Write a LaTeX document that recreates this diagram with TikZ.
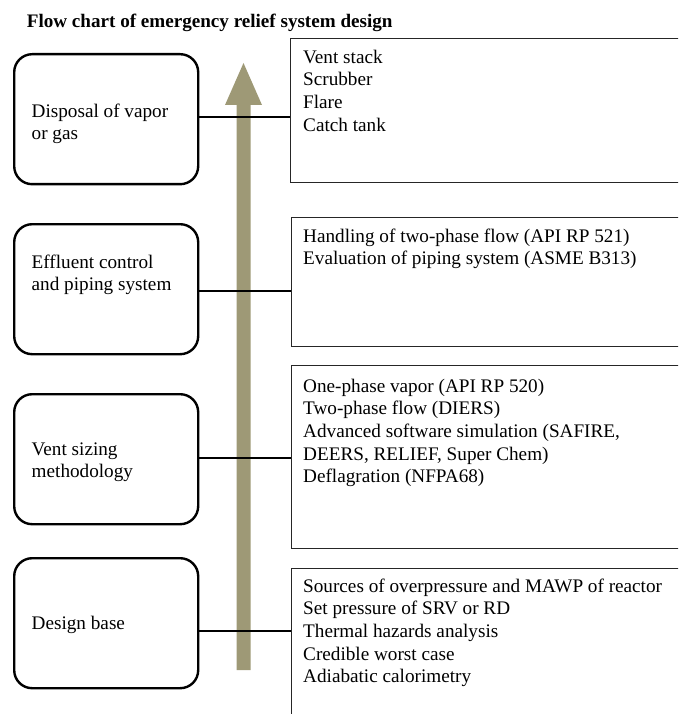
\documentclass[tikz,border=0pt]{standalone}
\usepackage{fontspec}
\setmainfont{Liberation Serif}
\definecolor{arrowkhaki}{RGB}{158,153,118}
\begin{document}
\begin{tikzpicture}[x=1pt,y=-1pt,
  leftbox/.style={draw, line width=2.4pt, rounded corners=18pt, minimum width=184pt,
    minimum height=130pt, anchor=north west, inner sep=0pt},
  rightbox/.style={draw=black!85, line width=1.3pt, anchor=north west, inner sep=0pt,
    minimum width=430pt},
  txt/.style={anchor=north west, inner sep=0pt, align=left,
    font=\fontsize{19.2}{22.7}\selectfont},
  link/.style={line width=2.4pt, black}
]
\useasboundingbox (0,0) rectangle (678,714);
\clip (0,0) rectangle (678,714);

% title
\node (title) [anchor=base west, inner sep=0pt, font=\bfseries\fontsize{19.1}{22}\selectfont]
  at (26.7,27.5) {Flow chart of emergency relief system design};

% big upward arrow
\fill[arrowkhaki] (236.5,670) -- (236.5,105) -- (225,105) -- (243.5,63) -- (262,105)
  -- (250.5,105) -- (250.5,670) -- cycle;

% left rounded boxes
\node (b1) [leftbox] at (13,53) {};
\node (b2) [leftbox] at (13,223) {};
\node (b3) [leftbox] at (13,393) {};
\node (b4) [leftbox] at (13,557) {};

\node (t1) [txt] at (31.5,101.1) {\strut Disposal of vapor\\\strut or gas};
\node (t2) [txt] at (31.5,252.1) {\strut Effluent control\\\strut and piping system};
\node (t3) [txt] at (31.5,439.1) {\strut Vent sizing\\\strut methodology};
\node (t4) [txt] at (31.5,613.1) {\strut Design base};

% right boxes (open to the right edge)
\node (rA) [rightbox, minimum height=144pt] at (290,38) {};
\node (rB) [rightbox, minimum height=129pt] at (291,217) {};
\node (rC) [rightbox, minimum height=183pt] at (291,365) {};
\node (rD) [rightbox, minimum height=200pt] at (291,568) {};

\node (tA) [txt] at (303,47.1) {\strut Vent stack\\\strut Scrubber\\\strut Flare\\\strut Catch tank};
\node (tB) [txt] at (303,226.1) {\strut Handling of two-phase flow (API RP 521)\\
  \strut Evaluation of piping system (ASME B313)};
\node (tC) [txt] at (303,376.1) {\strut One-phase vapor (API RP 520)\\
  \strut Two-phase flow (DIERS)\\
  \strut Advanced software simulation (SAFIRE,\\
  \strut DEERS, RELIEF, Super Chem)\\
  \strut Deflagration (NFPA68)};
\node (tD) [txt] at (303,576.1) {\strut Sources of overpressure and MAWP of reactor\\
  \strut Set pressure of SRV or RD\\
  \strut Thermal hazards analysis\\
  \strut Credible worst case\\
  \strut Adiabatic calorimetry};

% connectors
\coordinate (c1) at ([yshift=2pt]b1.east);
\coordinate (c2) at ([yshift=-2pt]b2.east);
\coordinate (c3) at ([yshift=1pt]b3.east);
\coordinate (c4) at ([yshift=-8pt]b4.east);
\draw[link] (c1) -- (c1 -| rA.west);
\draw[link] (c2) -- (c2 -| rB.west);
\draw[link] (c3) -- (c3 -| rC.west);
\draw[link] (c4) -- (c4 -| rD.west);
\end{tikzpicture}
\end{document}
